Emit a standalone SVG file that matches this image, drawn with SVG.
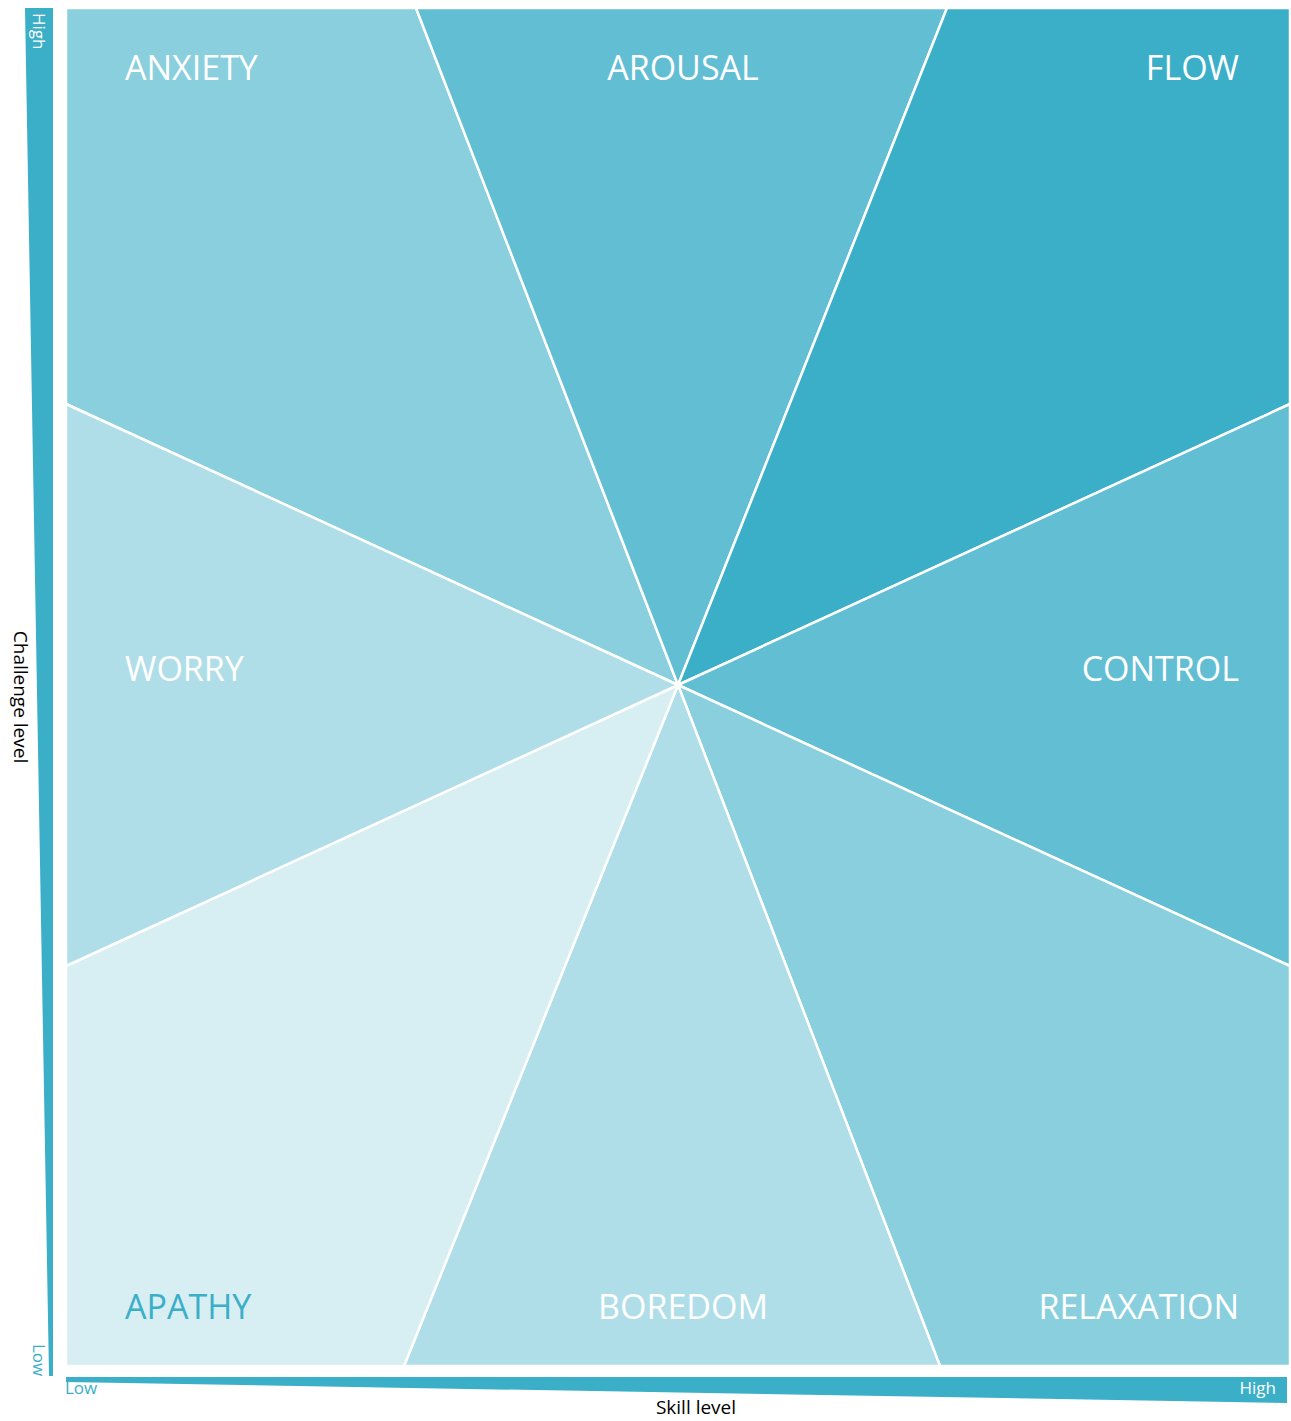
<svg xmlns="http://www.w3.org/2000/svg" width="1291" height="1421" viewBox="0 0 1291 1421">
  <style>
    .sep { stroke: #ffffff; stroke-width: 2.5; stroke-linejoin: round; }
    .lbl { font-family: "Open Sans", "Noto Sans", sans-serif; font-size: 34px; fill: #ffffff; }
    .ax { font-family: "Open Sans", "Noto Sans", sans-serif; font-size: 17px; }
    .title { font-family: "Open Sans", "Noto Sans", sans-serif; font-size: 19px; fill: #000000; }
    .bar { fill: #3BAFC8; }
  </style>

  <!-- axes -->
  <g id="axis-challenge">
    <polygon class="bar" points="25,8 53,8 53,1376 49,1376"/>
    <text class="ax" fill="#ffffff" transform="translate(33,13) rotate(90)">High</text>
    <text class="ax" fill="#3BAFC8" transform="translate(33,1344) rotate(90)">Low</text>
    <text class="title" text-anchor="middle" transform="translate(14,697) rotate(90)">Challenge level</text>
  </g>
  <g id="axis-skill">
    <polygon class="bar" points="66,1377 1287,1377 1287,1403 66,1382"/>
    <text class="ax" fill="#3BAFC8" x="65" y="1394">Low</text>
    <text class="ax" fill="#ffffff" x="1276" y="1394" text-anchor="end">High</text>
    <text class="title" x="696" y="1414" text-anchor="middle">Skill level</text>
  </g>

  <!-- eight sectors around the centre point (678,685) -->
  <g id="anxiety">
    <polygon class="sep" fill="#8ACFDD" points="66,8 416,8 678,685 66,404"/>
    <text class="lbl" x="125" y="80">ANXIETY</text>
  </g>
  <g id="arousal">
    <polygon class="sep" fill="#62BED3" points="416,8 947,8 678,685"/>
    <text class="lbl" x="683" y="80" text-anchor="middle">AROUSAL</text>
  </g>
  <g id="flow">
    <polygon class="sep" fill="#3BAFC8" points="947,8 1290,8 1290,404 678,685"/>
    <text class="lbl" x="1239" y="80" text-anchor="end">FLOW</text>
  </g>
  <g id="control">
    <polygon class="sep" fill="#62BED3" points="1290,404 1290,966 678,685"/>
    <text class="lbl" x="1239" y="681" text-anchor="end">CONTROL</text>
  </g>
  <g id="relaxation">
    <polygon class="sep" fill="#8ACFDD" points="1290,966 1290,1366 940,1366 678,685"/>
    <text class="lbl" x="1239" y="1319" text-anchor="end">RELAXATION</text>
  </g>
  <g id="boredom">
    <polygon class="sep" fill="#B0DEE8" points="940,1366 404,1366 678,685"/>
    <text class="lbl" x="683" y="1319" text-anchor="middle">BOREDOM</text>
  </g>
  <g id="apathy">
    <polygon class="sep" fill="#D7EEF2" points="404,1366 66,1366 66,966 678,685"/>
    <text class="lbl" x="125" y="1319" style="fill:#3BAFC8">APATHY</text>
  </g>
  <g id="worry">
    <polygon class="sep" fill="#B0DEE8" points="66,966 66,404 678,685"/>
    <text class="lbl" x="125" y="681">WORRY</text>
  </g>

  <!-- connectors: none; sector borders are drawn as polygon strokes -->
  <g id="connectors"/>
</svg>
